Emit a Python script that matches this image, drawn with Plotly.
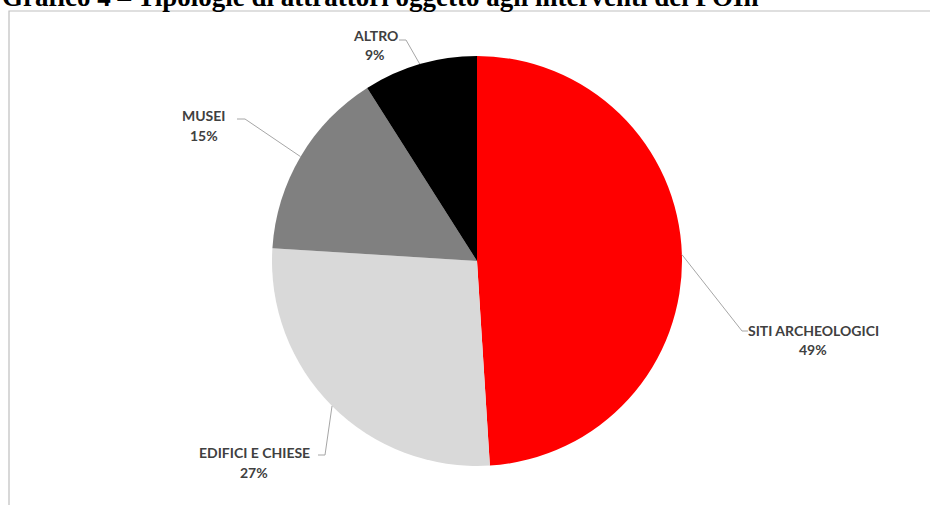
import math
import plotly.graph_objects as go

# ---- data ----
categories = ["SITI ARCHEOLOGICI", "EDIFICI E CHIESE", "MUSEI", "ALTRO"]
values = [49, 27, 15, 9]
pct_labels = ["49%", "27%", "15%", "9%"]
colors = ["#FF0000", "#D9D9D9", "#808080", "#000000"]
title_text = "Grafico 4 – Tipologie di attrattori oggetto agli interventi del POIn"

# ---- layout (pixels) ----
W, H = 930, 505
cx, cy, r = 477, 261, 205

def px(x):
    return x / W

def py(y):
    return 1 - y / H

# label layout: (elbow, line end, text centre x, line1 y, line2 y)
label_layout = {
    "SITI ARCHEOLOGICI": ((742, 331), (748, 331), 813, 330, 349),
    "EDIFICI E CHIESE": ((325, 455), (318, 455), 254, 452, 472),
    "MUSEI": ((245, 119), (237, 119), 204, 116, 135),
    "ALTRO": ((406, 40), (399, 40), 375, 35, 55),
}

fig = go.Figure()
fig.add_trace(go.Pie(
    labels=categories,
    values=values,
    sort=False,
    direction="clockwise",
    rotation=0,
    marker=dict(colors=colors, line=dict(width=0)),
    textinfo="none",
    hoverinfo="label+percent",
    domain=dict(x=[px(cx - r), px(cx + r)], y=[(H - cy - r) / H, (H - cy + r) / H]),
    showlegend=False,
))

shapes = []
annotations = []
total = sum(values)
cum = 0
text_font = dict(family="Lato, Open Sans, sans-serif", size=14, color="#404040")
for cat, val, pl in zip(categories, values, pct_labels):
    mid = (cum + val / 2) / total
    cum += val
    ang = 2 * math.pi * mid
    ex = cx + r * math.sin(ang)
    ey = cy - r * math.cos(ang)
    (bx, by), (tx, ty), tcx, y1, y2 = label_layout[cat]
    for (xa, ya), (xb, yb) in [((ex, ey), (bx, by)), ((bx, by), (tx, ty))]:
        shapes.append(dict(type="line", xref="paper", yref="paper",
                           x0=px(xa), y0=py(ya), x1=px(xb), y1=py(yb),
                           line=dict(color="#A6A6A6", width=1)))
    annotations.append(dict(text="<b>" + cat + "</b>", x=px(tcx), y=py(y1), xref="paper", yref="paper",
                            xanchor="center", yanchor="middle", showarrow=False, font=text_font))
    annotations.append(dict(text="<b>" + pl + "</b>", x=px(tcx), y=py(y2), xref="paper", yref="paper",
                            xanchor="center", yanchor="middle", showarrow=False, font=text_font))

# chart frame
shapes.append(dict(type="rect", xref="paper", yref="paper",
                   x0=px(9), x1=1.2, y0=-0.2, y1=py(11),
                   line=dict(color="#BFBFBF", width=1.2), fillcolor="rgba(0,0,0,0)"))

# cropped title (only its lower part is visible, as in the reference)
annotations.append(dict(text="<b>" + title_text + "</b>", x=0, y=1 + 20.5 / H, xref="paper", yref="paper",
                        xanchor="left", yanchor="top", showarrow=False,
                        font=dict(family="Liberation Serif, Times New Roman, serif", size=27, color="#000000")))

fig.update_layout(
    width=W, height=H,
    margin=dict(l=0, r=0, t=0, b=0),
    paper_bgcolor="white",
    plot_bgcolor="white",
    shapes=shapes,
    annotations=annotations,
)

fig.write_html("out.html", config={"displayModeBar": False},
               post_script="document.body.style.margin='0px';")
